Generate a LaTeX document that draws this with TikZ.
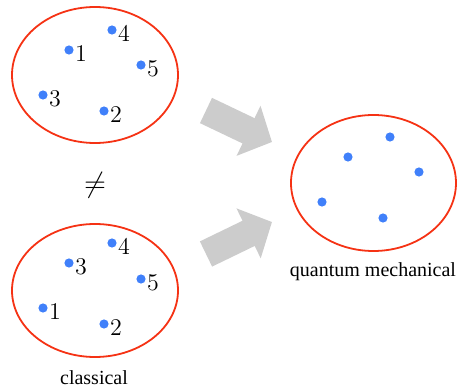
\documentclass[tikz,border=0pt]{standalone}
\usepackage{fontspec}
\setmainfont{Liberation Serif}
\usepackage{tikz}
\usetikzlibrary{shapes.geometric,arrows.meta,calc}
\definecolor{setred}{RGB}{245,50,20}
\definecolor{dotblue}{RGB}{64,128,250}
\definecolor{arrowgrey}{RGB}{204,204,204}

\tikzset{
  config/.style={draw=setred, line width=0.9pt, ellipse, inner sep=0pt},
  dot/.style={circle, fill=dotblue, inner sep=0pt, minimum size=4.6pt},
  num/.style={font=\large, inner sep=0pt},
  fatarrow/.style={arrowgrey, line width=14pt, -{Triangle[width=27pt,length=13pt]}}
}

\begin{document}
\begin{tikzpicture}[x=0.5pt, y=-0.5pt]
    \useasboundingbox (0,0) rectangle (457,391);

    % The three configurations
    \node[config, minimum width=83pt, minimum height=68pt] (top) at (95,75) {};
    \node[config, minimum width=83pt, minimum height=66.5pt] (bot) at (95,290.5) {};
    \node[config, minimum width=82.5pt, minimum height=68pt] (qm) at (373.5,183) {};

    % Labelled particles, upper set
    \foreach \n/\px/\py in {1/69/50, 4/112/30, 5/141/65, 3/43/95, 2/104/111} {
        \node[dot] (t\n) at (\px,\py) {};
        \node[num] (tl\n) at ($(t\n)+(12,4)$) {$\n$};
    }

    % Labelled particles, lower set
    \foreach \n/\px/\py in {4/112/243, 3/69/263, 5/141/279, 1/43/308, 2/104/324} {
        \node[dot] (b\n) at (\px,\py) {};
        \node[num] (bl\n) at ($(b\n)+(12,4)$) {$\n$};
    }

    % Unlabelled particles
    \foreach \n/\px/\py in {1/390/137, 2/348/157, 3/419/172, 4/322/202, 5/383/218} {
        \node[dot] (q\n) at (\px,\py) {};
    }

    % Captions
    \node[font=\Large] (neq) at (95,185) {$\neq$};
    \node (lclass) at (94,378) {classical};
    \node (lqm) at (373,272) {quantum mechanical};

    % Arrows
    \coordinate (a1s) at (206,110.5);
    \coordinate (a1e) at (272,142);
    \coordinate (a2s) at (206,254);
    \coordinate (a2e) at (272,222);
    \draw[fatarrow] (a1s) -- (a1e);
    \draw[fatarrow] (a2s) -- (a2e);
\end{tikzpicture}
\end{document}
